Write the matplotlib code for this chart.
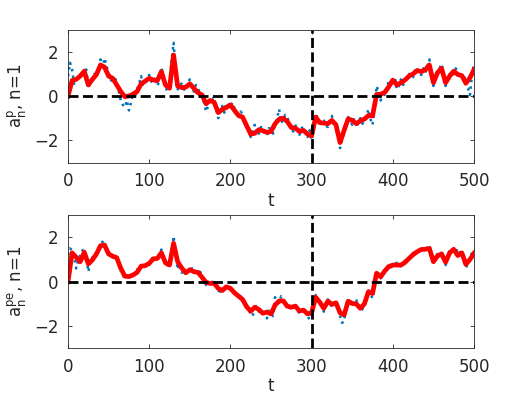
import numpy as np
import matplotlib
matplotlib.use("Agg")
import matplotlib.pyplot as plt

# time axis (every 5 samples) and the in-between samples for the noisy series
t = np.arange(0, 501, 5)
t_mid = np.arange(2.5, 500, 5)

# top panel: noisy (blue) and filtered (red)
top_blue = [0.9, 1.2, 0.7, 0.95, 1.1, 0.4, 0.85, 0.9, 1.65, 1.7,
            1.05, 0.6, 0.55, -0.2, -0.5, -0.65, 0.1, 0.3, 0.9, 0.6,
            0.95, 0.6, 0.45, 1.3, 0.4, 0.5, 2.4, 0.3, 0.55, 0.25,
            0.75, 0.2, 0.35, -0.1, -0.7, -0.1, -0.4, -1.0, -0.45, -0.3,
            -0.5, -0.55, -1.0, -0.8, -1.45, -1.85, -1.3, -1.7, -1.45, -1.8,
            -1.5, -1.3, -0.6, -1.1, -0.9, -1.5, -1.35, -1.75, -1.4, -1.85,
            -2.0, -0.8, -1.35, -1.1, -1.4, -0.9, -1.45, -2.35, -1.7, -0.95,
            -1.3, -1.4, -1.0, -1.15, -0.6, -1.3, 0.45, -0.2, 0.05, 0.7,
            0.6, 0.3, 0.75, 0.6, 1.0, 0.85, 1.3, 0.95, 1.05, 1.65,
            0.45, 1.15, 1.45, 0.45, 1.0, 1.0, 1.1, 0.8, 0.4, 0.05,
            1.5]
top_blue_mid = [1.5, 0.55, 0.95, 0.8, 1.2, 0.55, 1.0, 1.2, 1.3, 1.35,
                0.75, 0.9, 0.2, -0.4, -0.2, -0.3, -0.1, 0.55, 0.5, 0.85,
                0.65, 0.85, 0.7, 0.85, 0.2, 1.6, 1.2, 0.55, 0.3, 0.6,
                0.4, 0.5, 0.1, -0.3, -0.45, -0.1, -0.6, -0.55, -0.75, -0.45,
                -0.3, -0.9, -0.7, -1.2, -1.5, -1.55, -1.75, -1.4, -1.7, -1.45,
                -1.7, -1.0, -1.2, -0.85, -1.3, -1.6, -1.3, -1.45, -1.7, -1.55,
                -1.2, -1.0, -1.05, -1.35, -1.1, -1.3, -1.6, -2.0, -1.3, -1.1,
                -1.0, -1.15, -1.25, -0.9, -1.05, -0.6, 0.2, 0.25, 0.3, 0.5,
                0.85, 0.45, 0.5, 0.85, 0.8, 1.15, 1.0, 1.25, 1.3, 1.15,
                0.8, 1.25, 1.05, 0.75, 0.85, 1.25, 0.9, 1.0, 0.35, 0.95]
top_red = [0.0, 0.7, 0.75, 0.9, 1.12, 0.5, 0.75, 0.97, 1.4, 1.3,
           0.9, 0.8, 0.5, 0.2, -0.03, 0.0, 0.08, 0.2, 0.55, 0.67,
           0.8, 0.72, 0.7, 1.1, 0.5, 0.35, 1.85, 0.45, 0.38, 0.4,
           0.55, 0.35, 0.15, 0.05, -0.35, -0.2, -0.28, -0.75, -0.6, -0.52,
           -0.4, -0.65, -0.88, -0.95, -1.34, -1.72, -1.68, -1.52, -1.57, -1.64,
           -1.6, -1.25, -1.05, -1.0, -1.15, -1.42, -1.45, -1.6, -1.55, -1.72,
           -1.8, -0.95, -1.2, -1.22, -1.25, -1.1, -1.3, -2.1, -1.55, -1.03,
           -1.1, -1.25, -1.12, -1.04, -0.88, -0.9, 0.07, 0.08, 0.16, 0.42,
           0.72, 0.5, 0.6, 0.72, 0.9, 1.0, 1.15, 1.1, 1.18, 1.4,
           0.6, 1.05, 1.25, 0.6, 0.9, 1.12, 0.97, 0.92, 0.58, 0.82,
           1.19]

# bottom panel
bot_blue = [1.2, 1.4, 0.6, 1.2, 1.45, 0.45, 1.1, 1.2, 1.75, 1.6,
            1.3, 1.1, 1.15, 0.5, 0.1, 0.35, 0.2, 0.55, 0.6, 0.85,
            0.75, 1.15, 0.95, 1.45, 0.7, 0.85, 2.05, 0.55, 0.4, 0.55,
            0.45, 0.6, 0.35, 0.3, -0.15, -0.05, -0.15, -0.4, -0.3, -0.15,
            -0.4, -0.45, -0.75, -0.7, -1.05, -1.45, -1.0, -1.35, -1.3, -1.65,
            -1.4, -0.7, -0.95, -0.75, -1.2, -1.3, -1.0, -1.45, -1.2, -1.55,
            -1.6, -0.6, -1.0, -1.35, -0.8, -1.15, -0.85, -1.55, -1.8, -0.8,
            -1.05, -0.8, -1.3, -0.9, -0.4, -0.75, 0.5, 0.15, 0.55, 0.8,
            0.7, 0.85, 0.7, 0.95, 1.0, 1.3, 1.3, 1.55, 1.4, 1.65,
            0.8, 1.25, 1.3, 0.75, 1.45, 1.4, 1.5, 1.2, 0.6, 1.1,
            1.45]
bot_blue_mid = [1.5, 1.15, 0.95, 1.4, 1.15, 0.85, 1.1, 1.45, 1.8, 1.5,
                1.1, 1.2, 0.85, 0.35, 0.3, 0.2, 0.4, 0.5, 0.8, 0.65,
                0.95, 1.05, 1.2, 1.1, 0.75, 1.3, 1.35, 0.8, 0.5, 0.45,
                0.6, 0.4, 0.45, 0.1, -0.1, 0.0, -0.2, -0.45, -0.3, -0.3,
                -0.35, -0.6, -0.65, -0.95, -1.25, -1.55, -1.2, -1.3, -1.45, -1.3,
                -1.55, -0.9, -0.65, -1.0, -1.1, -1.1, -1.25, -1.35, -1.4, -1.7,
                -0.85, -0.8, -1.05, -1.0, -0.9, -1.0, -1.1, -1.85, -1.1, -0.95,
                -0.9, -1.1, -1.25, -0.7, -0.55, -0.3, 0.3, 0.35, 0.6, 0.65,
                0.8, 0.7, 0.8, 0.95, 1.15, 1.25, 1.45, 1.4, 1.55, 1.25,
                1.0, 1.2, 1.2, 1.0, 1.35, 1.3, 1.3, 1.05, 0.85, 1.3]
bot_red = [0.0, 1.3, 1.1, 0.9, 1.33, 0.8, 0.98, 1.25, 1.62, 1.65,
           1.25, 1.15, 1.08, 0.6, 0.25, 0.23, 0.3, 0.42, 0.7, 0.72,
           0.83, 1.03, 1.05, 1.3, 0.85, 0.75, 1.73, 0.9, 0.62, 0.4,
           0.54, 0.45, 0.42, 0.2, -0.03, -0.08, -0.07, -0.3, -0.4, -0.23,
           -0.3, -0.5, -0.65, -0.8, -1.13, -1.33, -1.15, -1.25, -1.42, -1.37,
           -1.45, -1.05, -0.87, -0.86, -1.1, -1.15, -1.1, -1.32, -1.28, -1.45,
           -1.4, -0.7, -0.92, -1.2, -0.88, -1.02, -0.95, -1.4, -1.5, -0.88,
           -0.98, -1.0, -1.2, -1.0, -0.45, -0.53, 0.38, 0.22, 0.48, 0.68,
           0.75, 0.75, 0.75, 0.87, 1.05, 1.22, 1.35, 1.45, 1.46, 1.5,
           0.9, 1.16, 1.25, 0.88, 1.3, 1.46, 1.18, 1.3, 0.78, 1.0,
           1.28]

t_split = 300
ylabels = [r'$\mathregular{a_n^p}$, n=1', r'$\mathregular{a_n^{pe}}$, n=1']


def merge(a, b):
    # put the sampled points and the in-between points in time order
    tt = np.concatenate([t, t_mid])
    vv = np.concatenate([a, b])
    order = np.argsort(tt)
    return tt[order], vv[order]


plt.rcParams['font.family'] = 'DejaVu Sans'
plt.rcParams['mathtext.default'] = 'regular'

fig = plt.figure(figsize=(5.13, 3.93), dpi=100)
ax1 = fig.add_axes([0.1326, 0.5865, 0.7914, 0.3384])
ax2 = fig.add_axes([0.1326, 0.1137, 0.7914, 0.3390])

for ax, blue, blue_mid, red, lab in [(ax1, top_blue, top_blue_mid, top_red, ylabels[0]),
                                     (ax2, bot_blue, bot_blue_mid, bot_red, ylabels[1])]:
    tb, vb = merge(blue, blue_mid)
    ax.plot(tb, vb, ':', color=(0, 0.447, 0.741), lw=1.8)
    ax.plot(t, red, '-', color='red', lw=3.4)
    ax.axhline(0, color='black', lw=2, ls=(0, (3.6, 1.6)))
    ax.axvline(t_split, color='black', lw=2, ls=(0, (3.6, 1.6)))
    ax.set_xlim(0, 500)
    ax.set_ylim(-3, 3)
    ax.set_xticks([0, 100, 200, 300, 400, 500])
    ax.set_yticks([-2, 0, 2])
    ax.tick_params(direction='in', length=3, width=0.6, top=True, right=True,
                   labelsize=12, colors='#262626', pad=7)
    for s in ax.spines.values():
        s.set_color('#262626')
        s.set_linewidth(0.6)
    ax.set_xlabel('t', fontsize=12, color='#262626', labelpad=1)
    ax.set_ylabel(lab, fontsize=12, color='#262626', labelpad=4)

fig.savefig('out.png', dpi=100)
